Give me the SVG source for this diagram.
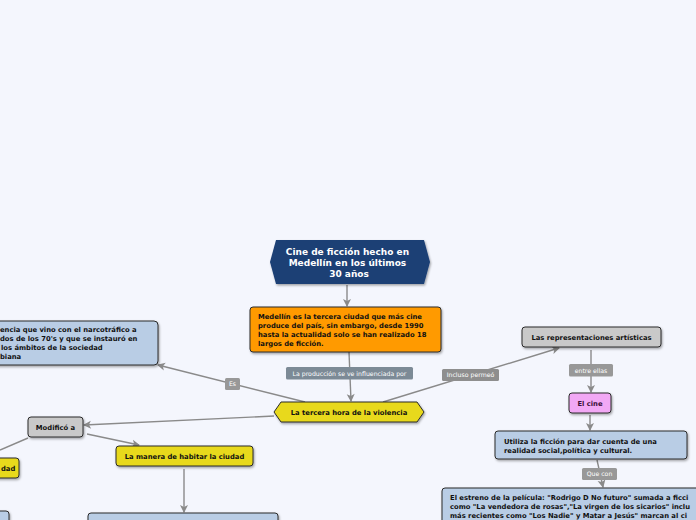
<svg xmlns="http://www.w3.org/2000/svg" width="696" height="520" viewBox="0 0 696 520">
<defs>
<marker id="arr" markerWidth="10" markerHeight="10" refX="8" refY="5" orient="auto" markerUnits="userSpaceOnUse">
<path d="M1,1 L9,5 L1,9 L3,5 Z" fill="#8a8a8a"/>
</marker>
<filter id="sh" x="-10%" y="-10%" width="130%" height="150%">
<feDropShadow dx="1" dy="1.5" stdDeviation="0.8" flood-color="#000" flood-opacity="0.35"/>
</filter>
</defs>
<style>
.box{stroke:#2b2b2b;stroke-width:1;filter:url(#sh)}
.t{font-family:"DejaVu Sans",Verdana,sans-serif;font-weight:bold;font-size:6.8px;fill:#111}
.c{text-anchor:middle}
.ln{stroke:#8a8a8a;stroke-width:1.4;fill:none}
.lb{fill:#989898}
.lt{font-family:"DejaVu Sans",Verdana,sans-serif;font-size:6.2px;fill:#fff;text-anchor:middle}
.blue{fill:#b9cde5}
.gray{fill:#c9c9c9}
.yel{fill:#e8d91b}
</style>
<rect width="696" height="520" fill="#f4f6fd"/>

<g id="connectors">
<line class="ln" x1="347" y1="285" x2="347" y2="306" marker-end="url(#arr)"/>
<line class="ln" x1="349" y1="352" x2="351" y2="401" marker-end="url(#arr)"/>
<line class="ln" x1="305" y1="402" x2="158" y2="365" marker-end="url(#arr)"/>
<line class="ln" x1="383" y1="402" x2="559" y2="348" marker-end="url(#arr)"/>
<line class="ln" x1="274" y1="416" x2="84" y2="425" marker-end="url(#arr)"/>
<line class="ln" x1="87" y1="434" x2="139" y2="445" marker-end="url(#arr)"/>
<line class="ln" x1="28" y1="438" x2="0" y2="450"/>
<line class="ln" x1="184" y1="469" x2="184" y2="512" marker-end="url(#arr)"/>
<line class="ln" x1="591" y1="350" x2="591" y2="392" marker-end="url(#arr)"/>
<line class="ln" x1="590" y1="415" x2="590" y2="430" marker-end="url(#arr)"/>
<line class="ln" x1="597" y1="460" x2="603" y2="487" marker-end="url(#arr)"/>
<rect x="286" y="367" width="127" height="12.5" rx="1.5" fill="#7c8a96"/>
<text class="lt" x="349.5" y="375.8">La producción se ve influenciada por</text>
<rect x="225" y="378" width="15" height="12" rx="1.5" class="lb"/>
<text class="lt" x="232.5" y="386.3">Es</text>
<rect x="442" y="369" width="57" height="12" rx="1.5" fill="#8e8e8e"/>
<text class="lt" x="470.5" y="377.3">Incluso permeó</text>
<rect x="569" y="364" width="44" height="12.5" rx="1.5" class="lb"/>
<text class="lt" x="591" y="372.6">entre ellas</text>
<rect x="582" y="468" width="35" height="12" rx="1.5" class="lb"/>
<text class="lt" x="599.5" y="476.3">Que con</text>
</g>

<g id="title">
<polygon points="270,262 276,240 424,240 430,262 424,284 276,284" fill="#1b3f75" filter="url(#sh)"/>
<text font-family="DejaVu Sans,Verdana,sans-serif" font-weight="bold" font-size="9px" fill="#fff" text-anchor="middle">
<tspan x="349" y="254.5">Cine de ficción hecho en</tspan>
<tspan x="349" y="265.5">Medellín en los últimos</tspan>
<tspan x="349" y="276.5">30 años</tspan>
</text>
</g>

<g id="medellin">
<rect class="box" x="250" y="307" width="191" height="45" rx="3" fill="#ff9a00"/>
<text class="t"><tspan x="258" y="318.5">Medellín es la tercera ciudad que más cine</tspan><tspan x="258" y="327.5">produce del país, sin embargo, desde 1990</tspan><tspan x="258" y="336.5">hasta la actualidad solo se han realizado 18</tspan><tspan x="258" y="345.5">largos de ficción.</tspan></text>
</g>

<g id="tercera">
<polygon class="box" points="274,412 281,402 417,402 424,412 417,422 281,422" fill="#e8d91b"/>
<text class="t c" x="349" y="414.5">La tercera hora de la violencia</text>
</g>

<g id="violencia">
<rect class="box blue" x="-10" y="321" width="168" height="44" rx="4"/>
<text class="t"><tspan x="0" y="332">encia que vino con el narcotráfico a</tspan><tspan x="0" y="341">dos de los 70's  y que se instauró en</tspan><tspan x="1" y="350">los ámbitos de la sociedad</tspan><tspan x="0" y="359">biana</tspan></text>
</g>

<g id="representaciones">
<rect class="box gray" x="522" y="327" width="139" height="20" rx="3"/>
<text class="t c" x="591.5" y="339.5">Las representaciones artísticas</text>
</g>

<g id="cine">
<rect class="box" x="569" y="393" width="42" height="20" rx="3" fill="#f2a8f5"/>
<text class="t c" x="590" y="405.5" style="fill:#3a1038">El cine</text>
</g>

<g id="utiliza">
<rect class="box blue" x="495" y="431" width="192" height="28" rx="3"/>
<text class="t"><tspan x="504" y="443.5">Utiliza la ficción para dar cuenta de una</tspan><tspan x="504" y="452.5">realidad social,política y cultural.</tspan></text>
</g>

<g id="estreno">
<rect class="box blue" x="442" y="488" width="270" height="50" rx="3"/>
<text class="t"><tspan x="450" y="500">El estreno de la película: "Rodrigo D No futuro" sumada a ficci</tspan><tspan x="450" y="509">como "La vendedora de rosas","La virgen de los sicarios" inclu</tspan><tspan x="450" y="518">más recientes como "Los Nadie" y Matar a Jesús" marcan al ci</tspan></text>
</g>

<g id="modifico">
<rect class="box gray" x="28" y="417" width="55" height="20" rx="3"/>
<text class="t c" x="55.5" y="429.5">Modificó a</text>
</g>

<g id="manera">
<rect class="box yel" x="116" y="446" width="137" height="20" rx="3"/>
<text class="t c" x="184.5" y="458.5">La manera de habitar la ciudad</text>
</g>

<g id="ciudad-left">
<rect class="box yel" x="-20" y="458" width="39" height="20" rx="3"/>
<text class="t" x="1" y="470.5">dad</text>
</g>

<g id="left-bottom">
<rect class="box blue" x="-20" y="511" width="29" height="30" rx="3"/>
</g>

<g id="habitar-detail">
<rect class="box blue" x="88" y="513" width="190" height="30" rx="3"/>
</g>
</svg>
